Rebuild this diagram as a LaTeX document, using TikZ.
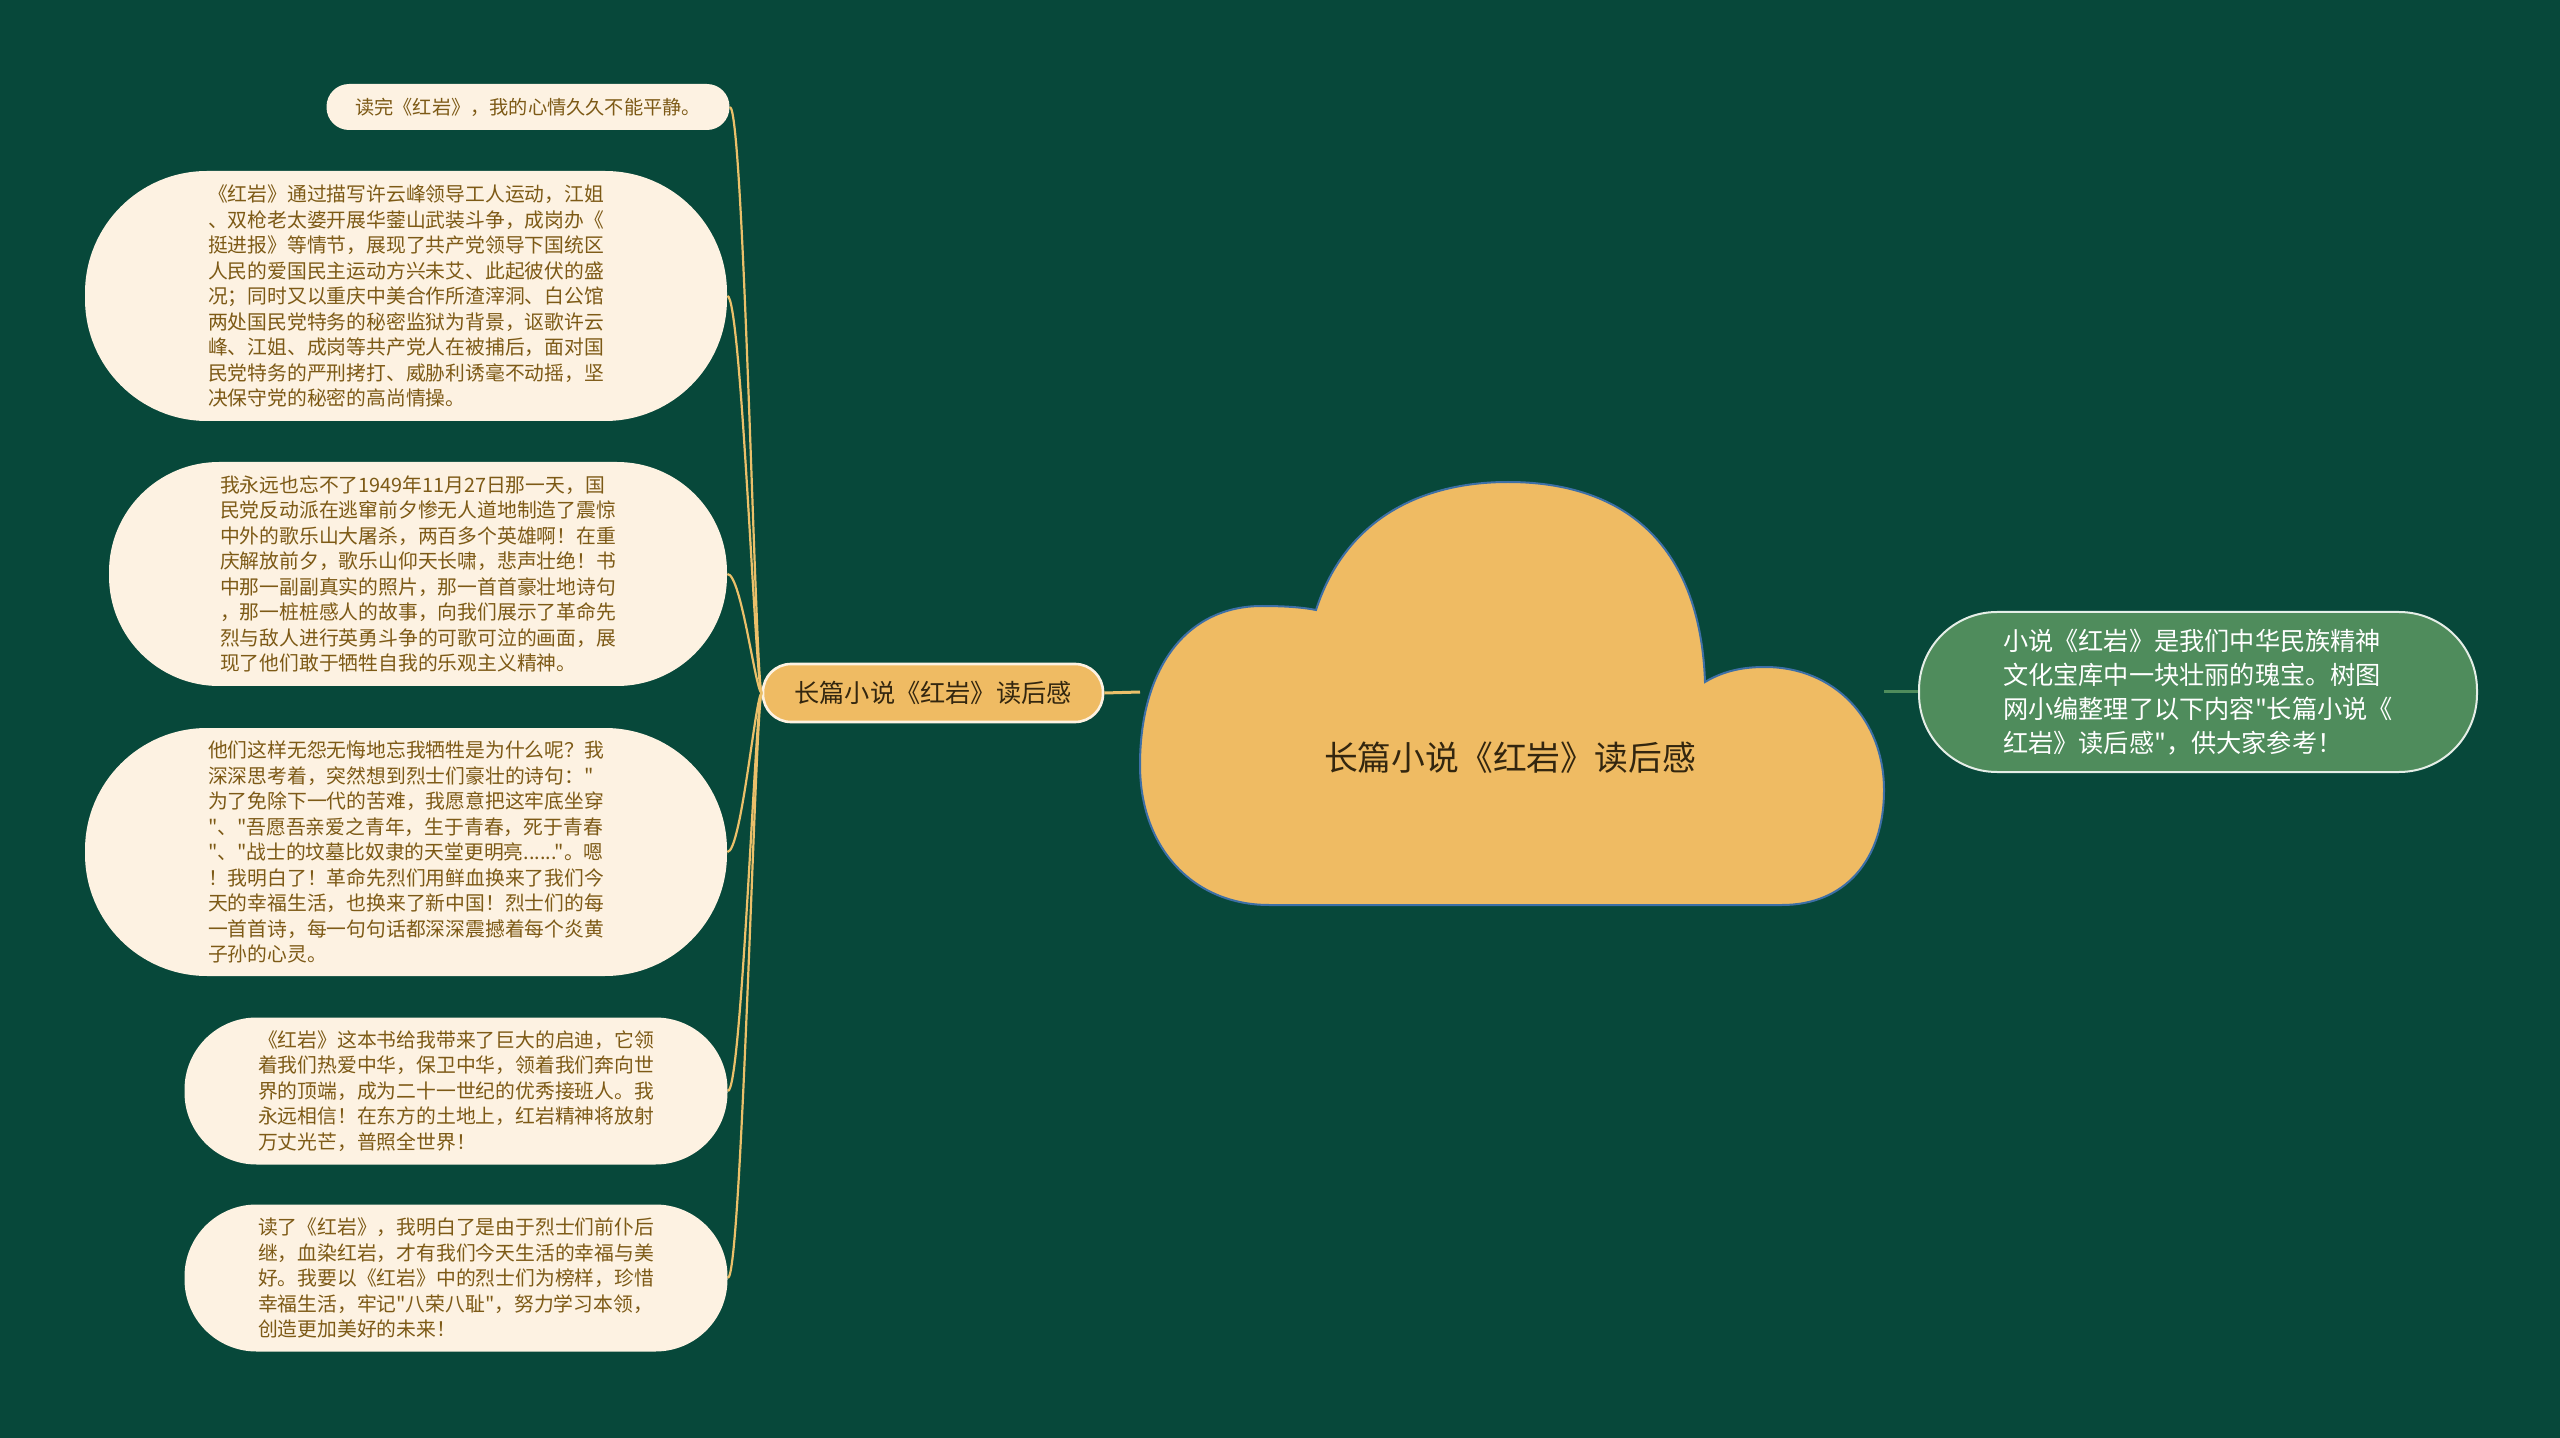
\documentclass[tikz,border=0pt]{standalone}
\usepackage{fontspec}
\setmainfont{Noto Sans CJK SC}[Ligatures=TeXOff]
\definecolor{bgcol}{HTML}{07483A}
\definecolor{leafcol}{HTML}{FDF2E2}
\definecolor{leaftext}{HTML}{7D5A16}
\definecolor{goldcol}{HTML}{EFBB63}
\definecolor{linecol}{HTML}{EBC06A}
\definecolor{cloudedge}{HTML}{3D6FA6}
\definecolor{greencol}{HTML}{4F8C5C}
\definecolor{darktext}{HTML}{33260F}
\begin{document}
\begin{tikzpicture}[x=0.5pt,y=-0.5pt,
  leaf/.style={fill=leafcol, text=leaftext, align=left, inner sep=0pt,
    font=\fontsize{9.9pt}{12.75pt}\selectfont},
  conn/.style={draw=linecol, line width=1.1pt},
  branchbox/.style={fill=goldcol, draw=leafcol, line width=1.3pt, text=darktext,
    inner sep=0pt, font=\fontsize{12.6pt}{15pt}\selectfont},
  rightbox/.style={fill=greencol, draw=white!85!greencol, line width=1pt, text=white,
    align=left, inner sep=0pt, font=\fontsize{12.6pt}{16.9pt}\selectfont},
]
\useasboundingbox (0,0) rectangle (2560,1438);
\fill[bgcol] (0,0) rectangle (2560,1438);

% cloud
\path[fill=goldcol, draw=cloudedge, line width=1pt]
  (1316,610) .. controls (1345,520) and (1420,482) .. (1508,482)
  .. controls (1620,482) and (1700,540) .. (1705,682)
  .. controls (1725,670) and (1745,667) .. (1765,667)
  .. controls (1835,667) and (1884,720) .. (1884,790)
  .. controls (1884,860) and (1845,905) .. (1782,905)
  -- (1269,905)
  .. controls (1195,905) and (1140,850) .. (1140,765)
  .. controls (1140,670) and (1185,606) .. (1262,606)
  .. controls (1290,606) and (1306,608) .. (1316,610) -- cycle;
\node[text=darktext, font=\fontsize{16.9pt}{20pt}\selectfont] (root) at (1510,758) {长篇小说《红岩》读后感};
\coordinate (cloudL) at (1140,692);
\coordinate (cloudR) at (1884,692);

% right node
\node[rightbox, minimum width=279pt, minimum height=80pt, rounded corners=39pt] (intro) at (2198,692)
  {小说《红岩》是我们中华民族精神\\文化宝库中一块壮丽的瑰宝。树图\\网小编整理了以下内容"长篇小说《\\红岩》读后感"，供大家参考！};

% branch node
\node[branchbox, minimum width=170pt, minimum height=29pt, rounded corners=14pt] (branch) at (933,693) {长篇小说《红岩》读后感};

% leaves
\node[leaf, font=\fontsize{9.6pt}{12pt}\selectfont, minimum width=201.5pt, minimum height=23pt, rounded corners=11.3pt] (leaf1) at (528,107)
  {读完《红岩》，我的心情久久不能平静。};
\node[leaf, minimum width=321pt, minimum height=125pt, rounded corners=61pt] (leaf2) at (406,296)
  {《红岩》通过描写许云峰领导工人运动，江姐\\、双枪老太婆开展华蓥山武装斗争，成岗办《\\挺进报》等情节，展现了共产党领导下国统区\\人民的爱国民主运动方兴未艾、此起彼伏的盛\\况；同时又以重庆中美合作所渣滓洞、白公馆\\两处国民党特务的秘密监狱为背景，讴歌许云\\峰、江姐、成岗等共产党人在被捕后，面对国\\民党特务的严刑拷打、威胁利诱毫不动摇，坚\\决保守党的秘密的高尚情操。};
\node[leaf, minimum width=309pt, minimum height=112pt, rounded corners=55pt] (leaf3) at (418,574)
  {我永远也忘不了1949年11月27日那一天，国\\民党反动派在逃窜前夕惨无人道地制造了震惊\\中外的歌乐山大屠杀，两百多个英雄啊！在重\\庆解放前夕，歌乐山仰天长啸，悲声壮绝！书\\中那一副副真实的照片，那一首首豪壮地诗句\\，那一桩桩感人的故事，向我们展示了革命先\\烈与敌人进行英勇斗争的可歌可泣的画面，展\\现了他们敢于牺牲自我的乐观主义精神。};
\node[leaf, minimum width=321pt, minimum height=124pt, rounded corners=61pt] (leaf4) at (406,852)
  {他们这样无怨无悔地忘我牺牲是为什么呢？我\\深深思考着，突然想到烈士们豪壮的诗句："\\为了免除下一代的苦难，我愿意把这牢底坐穿\\"、"吾愿吾亲爱之青年，生于青春，死于青春\\"、"战士的坟墓比奴隶的天堂更明亮......"。嗯\\！我明白了！革命先烈们用鲜血换来了我们今\\天的幸福生活，也换来了新中国！烈士们的每\\一首首诗，每一句句话都深深震撼着每个炎黄\\子孙的心灵。};
\node[leaf, minimum width=271.5pt, minimum height=73.5pt, rounded corners=36pt] (leaf5) at (456,1091)
  {《红岩》这本书给我带来了巨大的启迪，它领\\着我们热爱中华，保卫中华，领着我们奔向世\\界的顶端，成为二十一世纪的优秀接班人。我\\永远相信！在东方的土地上，红岩精神将放射\\万丈光芒，普照全世界！};
\node[leaf, minimum width=271.5pt, minimum height=73.5pt, rounded corners=36pt] (leaf6) at (456,1278)
  {读了《红岩》，我明白了是由于烈士们前仆后\\继，血染红岩，才有我们今天生活的幸福与美\\好。我要以《红岩》中的烈士们为榜样，珍惜\\幸福生活，牢记"八荣八耻"，努力学习本领，\\创造更加美好的未来！};

% connectors
\draw[draw=linecol, line width=1.5pt] (branch.east) -- (cloudL);
\draw[draw=greencol, line width=1.5pt] (cloudR) -- (intro.west);
\foreach \n in {leaf1,leaf2,leaf3,leaf4,leaf5,leaf6}
  \draw[conn] (branch.west) .. controls +(-6,0) and +(14,0) .. (\n.east);
\end{tikzpicture}
\end{document}
